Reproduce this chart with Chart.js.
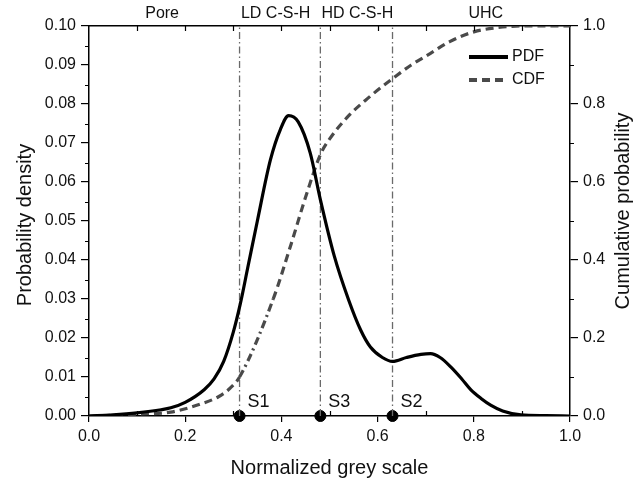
<!DOCTYPE html>
<html><head><meta charset="utf-8">
<script src="https://cdn.jsdelivr.net/npm/chart.js@4/dist/chart.umd.min.js"></script>
<style>html,body{margin:0;padding:0;background:#fff;}canvas{display:block;}</style>
</head><body>
<canvas id="c" width="643" height="483"></canvas>
<script>
// ---- data ----
const pdfX = [0.00,0.05,0.10,0.15,0.17,0.20,0.24,0.26,0.28,0.30,0.315,0.33,0.35,0.377,0.398,0.415,0.435,0.46,0.481,0.51,0.54,0.565,0.585,0.61,0.631,0.66,0.69,0.71,0.73,0.752,0.775,0.794,0.815,0.835,0.86,0.898,0.95,1.00];
const pdfY = [0.0000,0.0003,0.0008,0.0016,0.0021,0.0035,0.0068,0.0095,0.0140,0.0215,0.0290,0.0380,0.0500,0.0656,0.0735,0.0770,0.0754,0.0674,0.0555,0.0410,0.0297,0.0220,0.0177,0.0150,0.0140,0.0150,0.0158,0.0160,0.0150,0.0126,0.0095,0.0067,0.0045,0.0028,0.0013,0.0003,0.0001,0.0000];
const cdfX = [0.00,0.05,0.10,0.17,0.2375,0.27,0.294,0.313,0.383,0.42,0.45,0.481,0.50,0.54,0.58,0.631,0.67,0.71,0.75,0.80,0.85,0.90,1.00];
const cdfY = [0.000,0.002,0.005,0.010,0.033,0.050,0.072,0.100,0.300,0.440,0.560,0.670,0.710,0.770,0.815,0.865,0.900,0.930,0.960,0.985,0.996,1.000,1.000];
const thresholdNames = ['S1','S3','S2'];
const thresholdValues = [0.313,0.481,0.631];
const phaseNames = ['Pore','LD C-S-H','HD C-S-H','UHC'];
const phaseCenters = [0.152,0.388,0.558,0.825];
const seriesNames = ['PDF','CDF'];
// --------------------------------------

const FONT = "'Liberation Sans', Arial, sans-serif";
const pts = (xs, ys) => xs.map((x,i)=>({x, y: ys[i]}));

const datasets = [
  {label: seriesNames[0], data: pts(pdfX,pdfY), yAxisID:'y', borderColor:'#000', borderWidth:3.2,
   pointRadius:0, cubicInterpolationMode:'monotone', fill:false},
  {label: seriesNames[1], data: pts(cdfX,cdfY), yAxisID:'y2', borderColor:'#4a4a4a', borderWidth:3.2,
   borderDash:[8,5], pointRadius:0, cubicInterpolationMode:'monotone', fill:false,
   segment:{borderDash: ctx => (cdfX[ctx.p0DataIndex] >= 0.313 && cdfX[ctx.p1DataIndex] <= 0.383) ? [8,4,2,4] : [8,5]}}
];
thresholdValues.forEach((s,i)=>{
  datasets.push({label: thresholdNames[i]+' line', data:[{x:s,y:0},{x:s,y:0.1}], yAxisID:'y',
    borderColor:'#6a6a6a', borderWidth:1.3, borderDash:[7,3,1.5,3], pointRadius:0, fill:false});
});
datasets.push({label:'thresholds', data: thresholdValues.map(s=>({x:s,y:0})), yAxisID:'y', showLine:false,
  pointRadius:5.5, pointBackgroundColor:'#000', pointBorderColor:'#000', clip:false});

const fixSize = (w,h) => (scale => { if (w!=null) scale.width = w; if (h!=null) scale.height = h; });

const overlay = {
  id:'overlay',
  afterDraw(chart){
    const ctx = chart.ctx, a = chart.chartArea;
    const xs = chart.scales.x, ys = chart.scales.y, y2 = chart.scales.y2;
    ctx.save();
    ctx.strokeStyle = '#000'; ctx.lineWidth = 1.2;
    // minor ticks
    ctx.beginPath();
    for (let k=1;k<20;k+=2){ const py = Math.round(ys.getPixelForValue(k*0.005))+0.5; ctx.moveTo(a.left-4,py); ctx.lineTo(a.left,py); }
    for (let k=1;k<10;k+=2){ const py = Math.round(y2.getPixelForValue(k*0.1))+0.5; ctx.moveTo(a.right,py); ctx.lineTo(a.right+4,py); }
    for (let k=1;k<10;k+=2){ const px = Math.round(xs.getPixelForValue(k*0.1))+0.5; ctx.moveTo(px,a.bottom); ctx.lineTo(px,a.bottom-5); }
    for (let k=1;k<10;k++){ const px = Math.round(xs.getPixelForValue(k*0.1))+0.5; ctx.moveTo(px,a.top); ctx.lineTo(px,a.top+5); }
    ctx.stroke();
    // phase labels above
    ctx.fillStyle = '#111'; ctx.font = '16px '+FONT; ctx.textAlign='center'; ctx.textBaseline='middle';
    phaseNames.forEach((t,i)=> ctx.fillText(t, xs.getPixelForValue(phaseCenters[i]), 14));
    // threshold labels
    ctx.font = '18px '+FONT; ctx.textAlign='left';
    thresholdNames.forEach((t,i)=> ctx.fillText(t, xs.getPixelForValue(thresholdValues[i])+8, ys.getPixelForValue(0)-14));
    // axis titles
    ctx.font = '20px '+FONT; ctx.textAlign='center';
    ctx.fillText('Normalized grey scale', (a.left+a.right)/2, 468);
    ctx.save(); ctx.translate(25,(a.top+a.bottom)/2+4); ctx.rotate(-Math.PI/2); ctx.fillText('Probability density',0,0); ctx.restore();
    ctx.save(); ctx.translate(623,(a.top+a.bottom)/2-10); ctx.rotate(-Math.PI/2); ctx.fillText('Cumulative probability',0,0); ctx.restore();
    // legend
    const lx0 = a.right-101, lx1 = a.right-62;
    const items = [chart.data.datasets[0], chart.data.datasets[1]];
    items.forEach((d,i)=>{
      const ly = a.top + 31 + i*23;
      ctx.beginPath(); ctx.strokeStyle = d.borderColor; ctx.lineWidth = 4;
      ctx.setLineDash(d.borderDash || []); ctx.moveTo(lx0,ly); ctx.lineTo(lx1,ly); ctx.stroke();
      ctx.setLineDash([]);
      ctx.fillStyle = '#111'; ctx.font='16px '+FONT; ctx.textAlign='left';
      ctx.fillText(d.label, lx1+4, ly);
    });
    ctx.restore();
  }
};

new Chart(document.getElementById('c'), {
  type:'line',
  data:{datasets},
  options:{
    responsive:false, animation:false, events:[],
    layout:{padding:0},
    plugins:{legend:{display:false}, tooltip:{enabled:false}},
    scales:{
      x:{type:'linear', position:'bottom', min:0, max:1, afterFit: fixSize(null,67),
         ticks:{stepSize:0.2, color:'#111', font:{family:FONT,size:16}, padding:5, maxRotation:0, callback:v=>v.toFixed(1)},
         grid:{drawOnChartArea:false, tickLength:6, color:'#000', lineWidth:1.2},
         border:{display:true, color:'#000', width:1.5}},
      x2:{type:'linear', position:'top', min:0, max:1, afterFit: fixSize(null,26),
         ticks:{display:false}, grid:{drawOnChartArea:false, drawTicks:false},
         border:{display:true, color:'#000', width:1.5}},
      y:{type:'linear', position:'left', min:0, max:0.1, afterFit: fixSize(89,null),
         ticks:{stepSize:0.01, color:'#111', font:{family:FONT,size:16}, padding:5, callback:v=>v.toFixed(2)},
         grid:{drawOnChartArea:false, tickLength:8, color:'#000', lineWidth:1.2},
         border:{display:true, color:'#000', width:1.5}},
      y2:{type:'linear', position:'right', min:0, max:1, afterFit: fixSize(73,null),
         ticks:{stepSize:0.2, color:'#111', font:{family:FONT,size:16}, padding:5, callback:v=>v.toFixed(1)},
         grid:{drawOnChartArea:false, tickLength:8, color:'#000', lineWidth:1.2},
         border:{display:true, color:'#000', width:1.5}}
    }
  },
  plugins:[overlay]
});
</script>
</body></html>
